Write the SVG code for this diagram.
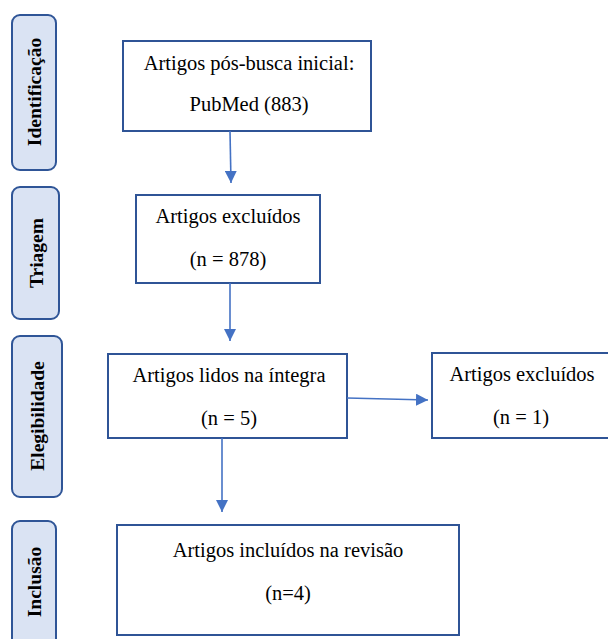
<svg xmlns="http://www.w3.org/2000/svg" width="608" height="639" viewBox="0 0 608 639">
<style>
.side{fill:#dae3f3;stroke:#2f5597;stroke-width:2}
.sl{font-family:"Liberation Serif",serif;font-weight:bold;font-size:19.5px;fill:#000;text-anchor:middle}
.box{fill:#fff;stroke:#2f5496;stroke-width:2}
.t{font-family:"Liberation Serif",serif;font-size:20.5px;fill:#000;text-anchor:middle}
.c{stroke:#4472c4;stroke-width:1.6;fill:none}
</style>
<defs>
<marker id="ah" viewBox="0 0 10 10" refX="10" refY="5" markerWidth="12" markerHeight="12" markerUnits="userSpaceOnUse" orient="auto">
<path d="M0,0L10,5L0,10z" fill="#4472c4"/>
</marker>
</defs>
<rect x="0" y="0" width="608" height="639" fill="#fff"/>
<g id="side-identificacao"><rect class="side" x="12" y="15" width="44" height="155" rx="8"/><text class="sl" transform="translate(41,92) rotate(-90)">Identificação</text></g>
<g id="side-triagem"><rect class="side" x="12" y="187" width="47" height="132" rx="8"/><text class="sl" transform="translate(43,253) rotate(-90)">Triagem</text></g>
<g id="side-elegibilidade"><rect class="side" x="12" y="336" width="50" height="161" rx="8"/><text class="sl" transform="translate(44,416) rotate(-90)">Elegibilidade</text></g>
<g id="side-inclusao"><rect class="side" x="12" y="521" width="44" height="130" rx="8"/><text class="sl" transform="translate(41,582) rotate(-90)">Inclusão</text></g>
<g id="n1"><rect class="box" x="123" y="41" width="248" height="90"/><text class="t" x="249" y="70">Artigos pós-busca inicial:</text><text class="t" x="249" y="111">PubMed (883)</text></g>
<g id="n2"><rect class="box" x="136" y="195" width="184" height="88"/><text class="t" x="228" y="223">Artigos excluídos</text><text class="t" x="228" y="266">(n = 878)</text></g>
<g id="n3"><rect class="box" x="108" y="354" width="239" height="84"/><text class="t" x="229" y="382">Artigos lidos na íntegra</text><text class="t" x="229" y="425">(n = 5)</text></g>
<g id="n4"><rect class="box" x="432" y="353" width="180" height="85"/><text class="t" x="522" y="381">Artigos excluídos</text><text class="t" x="521" y="424">(n = 1)</text></g>
<g id="n5"><rect class="box" x="117" y="525" width="342" height="110"/><text class="t" x="288" y="557">Artigos incluídos na revisão</text><text class="t" x="288" y="600">(n=4)</text></g>
<g id="connectors">
<line class="c" x1="230" y1="131" x2="231" y2="183" marker-end="url(#ah)"/>
<line class="c" x1="230" y1="283" x2="230" y2="341" marker-end="url(#ah)"/>
<line class="c" x1="347" y1="398" x2="428" y2="400" marker-end="url(#ah)"/>
<line class="c" x1="222" y1="438" x2="222" y2="512" marker-end="url(#ah)"/>
</g>
</svg>
